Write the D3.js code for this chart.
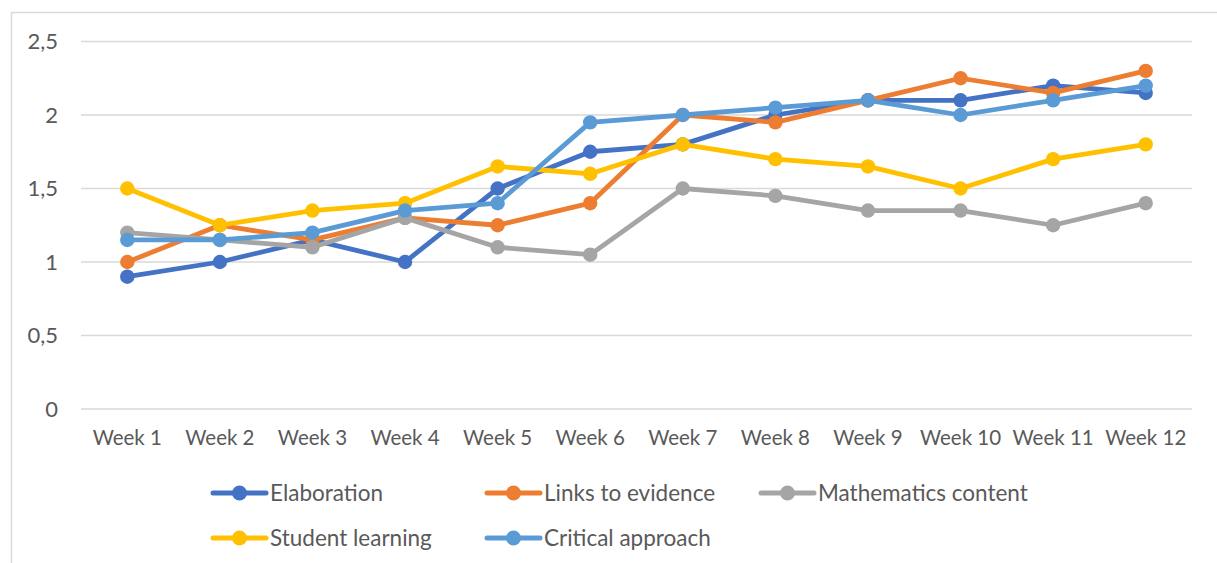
<!DOCTYPE html>
<html>
<head>
<meta charset="utf-8">
<script src="https://cdn.jsdelivr.net/npm/d3@7"></script>
<style>
  body { margin: 0; background: #fff; }
  text { font-family: Lato, "Open Sans", sans-serif; fill: #595959; }
</style>
</head>
<body>
<div id="chart"></div>
<script>
// data
const weeks = ["Week 1", "Week 2", "Week 3", "Week 4", "Week 5", "Week 6",
               "Week 7", "Week 8", "Week 9", "Week 10", "Week 11", "Week 12"];
const elaboration = [0.9, 1.0, 1.15, 1.0, 1.5, 1.75, 1.8, 2.0, 2.1, 2.1, 2.2, 2.15];
const linksToEvidence = [1.0, 1.25, 1.15, 1.3, 1.25, 1.4, 2.0, 1.95, 2.1, 2.25, 2.15, 2.3];
const mathematicsContent = [1.2, 1.15, 1.1, 1.3, 1.1, 1.05, 1.5, 1.45, 1.35, 1.35, 1.25, 1.4];
const studentLearning = [1.5, 1.25, 1.35, 1.4, 1.65, 1.6, 1.8, 1.7, 1.65, 1.5, 1.7, 1.8];
const criticalApproach = [1.15, 1.15, 1.2, 1.35, 1.4, 1.95, 2.0, 2.05, 2.1, 2.0, 2.1, 2.2];
const yTicks = [0, 0.5, 1, 1.5, 2, 2.5];

// drawing order: later series sit on top
const series = [
    { name: "Elaboration", values: elaboration, color: "#4472C4" },
    { name: "Links to evidence", values: linksToEvidence, color: "#ED7D31" },
    { name: "Mathematics content", values: mathematicsContent, color: "#A5A5A5" },
    { name: "Student learning", values: studentLearning, color: "#FFC000" },
    { name: "Critical approach", values: criticalApproach, color: "#5B9BD5" }
];

const width = 1217, height = 563;
const margin = { top: 41.5, right: 25, bottom: 154, left: 81 };

const svg = d3.select("#chart").append("svg")
    .attr("width", width)
    .attr("height", height);

// outer chart border (cut off on right and bottom in the reference)
svg.append("rect")
    .attr("x", 11.5).attr("y", 12.5)
    .attr("width", width + 10).attr("height", height + 10)
    .attr("fill", "none")
    .attr("stroke", "#D9D9D9")
    .attr("stroke-width", 1.5);

const x = d3.scaleBand()
    .domain(weeks)
    .range([margin.left, width - margin.right]);

const y = d3.scaleLinear()
    .domain([0, 2.5])
    .range([height - margin.bottom, margin.top]);

const commaFormat = d3.formatLocale({ decimal: ",", thousands: ".", grouping: [3], currency: ["", ""] }).format("~g");

// gridlines
svg.append("g")
    .selectAll("line")
    .data(yTicks)
    .enter().append("line")
    .attr("x1", margin.left)
    .attr("x2", width - margin.right)
    .attr("y1", d => y(d))
    .attr("y2", d => y(d))
    .attr("stroke", "#D9D9D9")
    .attr("stroke-width", 1.5);

// y axis labels
const yAxis = d3.axisLeft(y)
    .tickValues(yTicks)
    .tickFormat(commaFormat)
    .tickSize(0)
    .tickPadding(23);

svg.append("g")
    .attr("transform", "translate(" + margin.left + ",0)")
    .call(yAxis)
    .call(g => g.select(".domain").remove())
    .selectAll("text")
    .style("font-size", "22px")
    .attr("fill", "#595959");

// x axis labels
const xAxis = d3.axisBottom(x)
    .tickSize(0)
    .tickPadding(21);

svg.append("g")
    .attr("transform", "translate(0," + y(0) + ")")
    .call(xAxis)
    .call(g => g.select(".domain").remove())
    .selectAll("text")
    .style("font-size", "20.5px")
    .attr("fill", "#595959");

const line = d3.line()
    .x((d, i) => x(weeks[i]) + x.bandwidth() / 2)
    .y(d => y(d));

series.forEach(s => {
    const g = svg.append("g").attr("class", "series");
    g.append("path")
        .datum(s.values)
        .attr("d", line)
        .attr("fill", "none")
        .attr("stroke", s.color)
        .attr("stroke-width", 4.8)
        .attr("stroke-linejoin", "round");
    g.selectAll("circle")
        .data(s.values)
        .enter().append("circle")
        .attr("cx", (d, i) => x(weeks[i]) + x.bandwidth() / 2)
        .attr("cy", d => y(d))
        .attr("r", 7.2)
        .attr("fill", s.color);
});

//// Legend
const legendPos = [
    { x: 212, y: 493 }, { x: 486, y: 493 }, { x: 760, y: 493 },
    { x: 212, y: 538 }, { x: 486, y: 538 }
];

const legendItems = svg.append("g")
    .attr("class", "legend")
    .selectAll(".legend-item")
    .data(series)
    .enter().append("g")
    .attr("class", "legend-item")
    .attr("transform", (d, i) => "translate(" + legendPos[i].x + "," + legendPos[i].y + ")");

legendItems.append("line")
    .attr("x1", 1).attr("x2", 54)
    .attr("stroke", d => d.color)
    .attr("stroke-width", 5)
    .attr("stroke-linecap", "round");

legendItems.append("circle")
    .attr("cx", 27.5)
    .attr("r", 7.5)
    .attr("fill", d => d.color);

legendItems.append("text")
    .attr("x", 58)
    .attr("dy", "0.35em")
    .style("font-size", "22.5px")
    .text(d => d.name);
</script>
</body>
</html>
